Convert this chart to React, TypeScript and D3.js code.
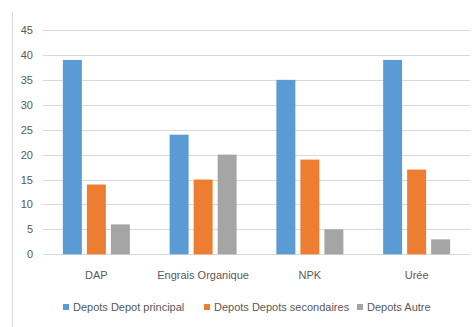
import React from "react";
import * as d3 from "d3";

const categories = ["DAP", "Engrais Organique", "NPK", "Urée"];
const seriesNames = ["Depots Depot principal", "Depots Depots secondaires", "Depots Autre"];
const principal = [39, 24, 35, 39];
const secondaires = [14, 15, 19, 17];
const autre = [6, 20, 5, 3];
const yTicks = [0, 5, 10, 15, 20, 25, 30, 35, 40, 45];
const colors = ["#5B9BD5", "#ED7D31", "#A5A5A5"];

export default function App() {
  const W = 472, H = 327;
  const series = [principal, secondaires, autre];
  const x = d3.scaleBand<string>().domain(categories).range([43, 470]);
  const y = d3.scaleLinear().domain([0, 45]).range([254.3, 30]);
  const inner = d3.scaleBand<number>().domain([0, 1, 2]).range([0, 67]).paddingInner(0.21);
  const font = "'Liberation Sans', Arial, sans-serif";
  const legendX = [63, 204, 357];
  return (
    <svg width={W} height={H} style={{ position: "fixed", left: 0, top: 0 }}>
      <rect x={0} y={0} width={W} height={H} fill="#fff" />
      <line x1={12.5} x2={12.5} y1={12} y2={H} stroke="#d9d9d9" strokeWidth={1} />
      {yTicks.map((t) => (
        <g key={t}>
          <line x1={43} x2={470} y1={Math.round(y(t)) + 0.5} y2={Math.round(y(t)) + 0.5} stroke="#d9d9d9" strokeWidth={1} />
          <text x={33} y={y(t) + 4} textAnchor="end" fontSize={11} fill="#595959" fontFamily={font}>{t}</text>
        </g>
      ))}
      {categories.map((c, ci) => {
        const cx = (x(c) as number) + x.bandwidth() / 2;
        return (
          <g key={c}>
            {series.map((s, si) => (
              <rect
                key={si}
                x={cx - 33.5 + (inner(si) as number)}
                y={y(s[ci])}
                width={inner.bandwidth()}
                height={y(0) - y(s[ci])}
                fill={colors[si]}
              />
            ))}
            <text x={cx} y={279} textAnchor="middle" fontSize={11} fill="#595959" fontFamily={font}>{c}</text>
          </g>
        );
      })}
      {seriesNames.map((n, i) => (
        <g key={n}>
          <rect x={legendX[i]} y={304} width={6} height={6} fill={colors[i]} />
          <text x={legendX[i] + 10} y={311} fontSize={11} fill="#595959" fontFamily={font}>{n}</text>
        </g>
      ))}
    </svg>
  );
}
